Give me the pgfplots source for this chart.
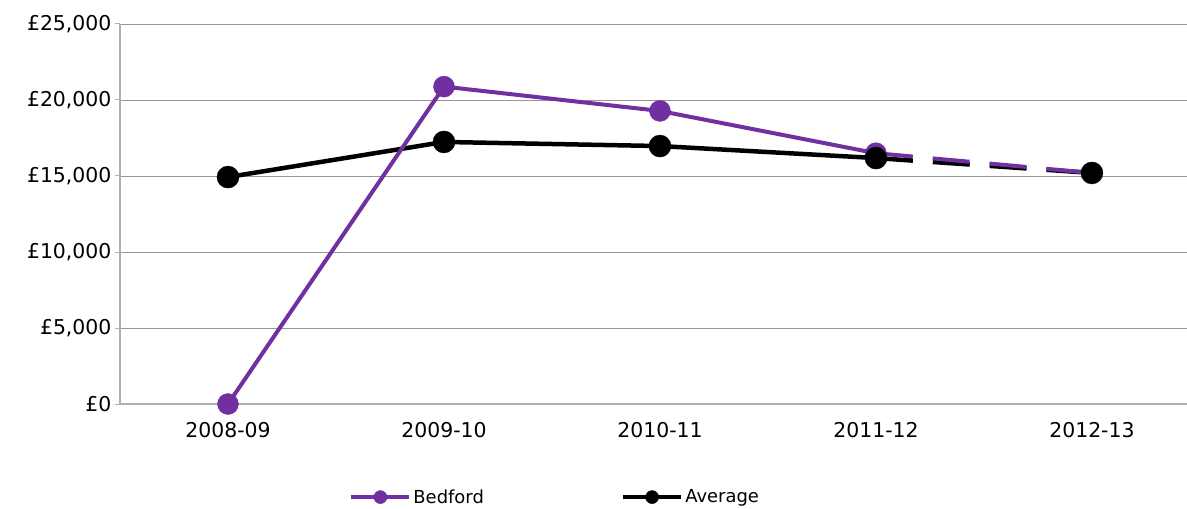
\documentclass[border=0pt]{standalone}
\usepackage{pgfplots}
\pgfplotsset{compat=1.18}
\usepackage{fontspec}
\setmainfont{DejaVu Sans}
\definecolor{bedford}{RGB}{112,48,160}
\definecolor{gridc}{RGB}{150,150,150}
\definecolor{axisc}{RGB}{175,175,175}
\begin{document}
\begin{tikzpicture}[x=1bp,y=1bp]
\path[use as bounding box] (-120bp,-105bp) rectangle (1067bp,404bp);
\begin{axis}[
  scale only axis,
  width=1080bp, height=380bp,
  xmin=-0.5, xmax=4.5,
  ymin=0, ymax=25000,
  scaled y ticks=false,
  xtick={0,1,2,3,4},
  xticklabels={2008-09,2009-10,2010-11,2011-12,2012-13},
  ytick={0,5000,10000,15000,20000,25000},
  yticklabels={{£0},{£5,000},{£10,000},{£15,000},{£20,000},{£25,000}},
  ymajorgrids,
  grid style={gridc, line width=0.8bp},
  axis x line*=bottom,
  axis y line*=left,
  axis line style={axisc, line width=1.5bp},
  x axis line style={-},
  y axis line style={-},
  major x tick style={draw=none},
  major y tick style={axisc, line width=1bp},
  tick align=outside,
  major tick length=5bp,
  tick label style={font=\fontsize{20.5}{24}\selectfont, text=black},
  xticklabel style={yshift=-10bp},
  yticklabel style={xshift=0bp},
  clip=false,
  legend style={at={(0.403,-0.245)}, anchor=center, draw=none, fill=none,
    legend columns=2, font=\fontsize{18}{22}\selectfont,
    /tikz/every even column/.append style={column sep=135bp}},
  legend cell align=left,
  legend image code/.code={
    \draw[#1, mark=none] (0bp,0bp) -- (58bp,0bp);
    \draw[#1, only marks] plot coordinates {(29bp,0bp)};
  },
]
% legend entries
\addlegendimage{bedford, line width=4bp, mark=*, mark size=6.5bp, mark options={solid, fill=bedford, draw=bedford, line width=0.5bp}}
\addlegendentry{Bedford}
\addlegendimage{black, line width=4.5bp, mark=*, mark size=6.5bp, mark options={solid, fill=black, line width=0.5bp}}
\addlegendentry{Average}
% Average line
\addplot[black, line width=4.5bp, mark=none, forget plot] coordinates {(0,14930) (1,17240) (2,16970) (3,16180)};
\addplot[black, line width=4.5bp, dash pattern=on 37bp off 20bp, mark=none, forget plot] coordinates {(3,16180) (4,15200)};
% Bedford line
\addplot[bedford, line width=4bp, mark=none, forget plot] coordinates {(0,0) (1,20880) (2,19280) (3,16500)};
\addplot[bedford, line width=4bp, dash pattern=on 37bp off 20bp, mark=none, forget plot] coordinates {(3,16500) (4,15200)};
% Bedford marks
\addplot[only marks, mark=*, mark size=10.5bp, bedford, fill=bedford, forget plot] coordinates {(0,0) (1,20880) (2,19280) (3,16500)};
% Average marks
\addplot[only marks, mark=*, mark size=11bp, black, fill=black, forget plot] coordinates {(0,14930) (1,17240) (2,16970) (3,16180) (4,15200)};
\end{axis}
\end{tikzpicture}
\end{document}
